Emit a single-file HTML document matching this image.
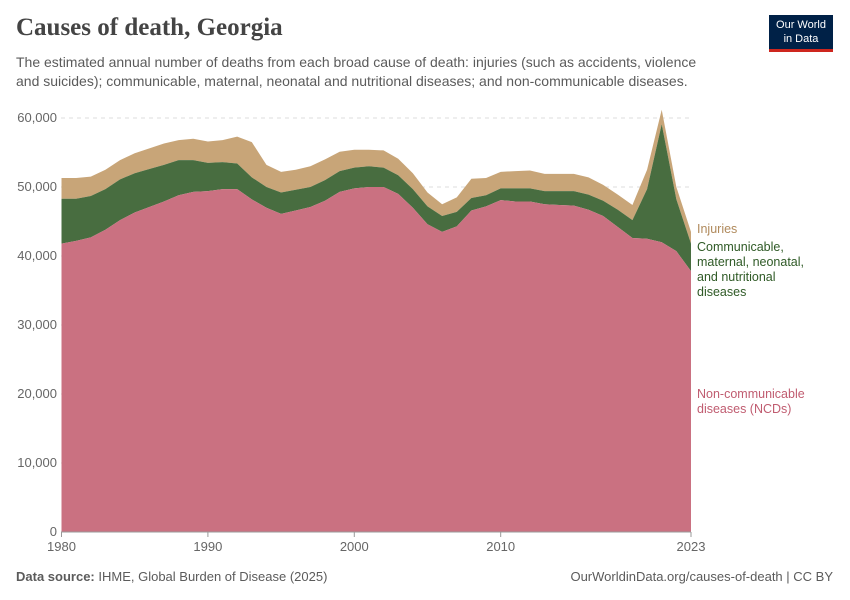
<!DOCTYPE html>
<html><head><meta charset="utf-8">
<style>
body{margin:0;background:#fff;font-family:"Liberation Sans",sans-serif}
#wrap{position:relative;width:850px;height:600px}
.t{position:absolute;margin:0}
</style></head><body>
<div id="wrap">
<div class="t" style="left:16px;top:14px;font-family:'Liberation Serif',serif;font-size:25px;font-weight:bold;color:#444">Causes of death, Georgia</div>
<div class="t" style="left:16px;top:53px;font-size:14px;line-height:19px;color:#5b5b5b;width:690px">The estimated annual number of deaths from each broad cause of death: injuries (such as accidents, violence and suicides); communicable, maternal, neonatal and nutritional diseases; and non-communicable diseases.</div>
<div class="t" style="left:769px;top:15px;width:64px;height:37px;background:#002147;border-bottom:3px solid #ce261e;color:#fff;font-size:11px;line-height:14px;text-align:center;padding-top:3px;box-sizing:border-box">Our World<br>in Data</div>
<svg id="chart" width="850" height="600" style="position:absolute;left:0;top:0"></svg>
<div class="t" style="left:16px;top:569px;font-size:13px;color:#5b5b5b"><b>Data source:</b> IHME, Global Burden of Disease (2025)</div>
<div class="t" style="right:17px;top:569px;font-size:13px;color:#5b5b5b">OurWorldinData.org/causes-of-death | CC BY</div>
</div>
<script>
const years=[];for(let y=1980;y<=2023;y++)years.push(y);
const ncd=[41800,42200,42700,43800,45200,46300,47100,47900,48800,49300,49400,49700,49700,48200,47000,46100,46600,47100,48000,49300,49800,50000,50000,49000,47000,44600,43500,44300,46600,47200,48100,47900,47900,47500,47400,47300,46700,45800,44200,42600,42500,42000,40700,37800];
const comm=[6500,6100,6000,5900,5900,5700,5500,5300,5100,4600,4100,3900,3700,3200,3000,3100,3000,2900,3000,3000,3000,3000,2800,2700,2700,2600,2300,2100,1800,1600,1700,1900,1900,1900,2000,2100,2200,2200,2500,2600,7200,17100,7500,4000];
const inj=[3000,3000,2800,2800,2800,2900,3000,3100,2900,3100,3100,3200,3900,5100,3200,3000,2900,3000,3000,2800,2600,2400,2500,2400,2300,2000,1700,2100,2800,2500,2400,2500,2600,2500,2500,2500,2500,2300,2200,2200,2800,2100,1800,1700];
const yTicks=[0,10000,20000,30000,40000,50000,60000];
const xTicks=[1980,1990,2000,2010,2023];
const svg=document.getElementById('chart');const NS='http://www.w3.org/2000/svg';
const X=y=>61.5+(y-1980)*(691-61.5)/43;
const Y=v=>532-v*(532-118)/60000;
function mk(t,a){const e=document.createElementNS(NS,t);for(const k in a)e.setAttribute(k,a[k]);svg.appendChild(e);return e;}
yTicks.forEach(v=>{
 if(v>0){const l=mk('line',{x1:61,x2:691,y1:Y(v),y2:Y(v),stroke:'#ddd','stroke-dasharray':'4,4'});
 }
 const t=mk('text',{x:57,y:Y(v)+4,'text-anchor':'end','font-size':13,fill:'#666','font-family':'Liberation Sans'});t.textContent=v.toLocaleString('en-US');
 
});
const c1=ncd,c2=ncd.map((v,i)=>v+comm[i]),c3=c2.map((v,i)=>v+inj[i]);
function area(top,bot,fill,name){
 let d='M'+years.map((y,i)=>X(y)+','+Y(top[i])).join('L');
 d+='L'+years.map((y,i)=>X(y)+','+Y(bot?bot[i]:0)).reverse().join('L')+'Z';
 const p=mk('path',{d,fill});}
area(c3,c2,'#c8a578','area-injuries');
area(c2,c1,'#486d40','area-communicable');
area(c1,null,'#ca7181','area-ncd');
const ax=mk('line',{x1:61,x2:691,y1:532,y2:532,stroke:'#999'});
xTicks.forEach(y=>{
 const tk=mk('line',{x1:X(y),x2:X(y),y1:532,y2:537,stroke:'#999'});
 const t=mk('text',{x:X(y),y:551,'text-anchor':'middle','font-size':13,fill:'#666','font-family':'Liberation Sans'});t.textContent=y;
 
});
function lab(lines,y,col,name){lines.forEach((s,i)=>{const t=mk('text',{x:697,y:y+i*15,'font-size':12.5,fill:col,'font-family':'Liberation Sans'});t.textContent=s;
 });}
lab(['Injuries'],233,'#b08a5c','legend-injuries');
lab(['Communicable,','maternal, neonatal,','and nutritional','diseases'],251,'#2f5a26','legend-communicable');
lab(['Non-communicable','diseases (NCDs)'],398,'#c05c70','legend-ncd');
</script>
</body></html>
